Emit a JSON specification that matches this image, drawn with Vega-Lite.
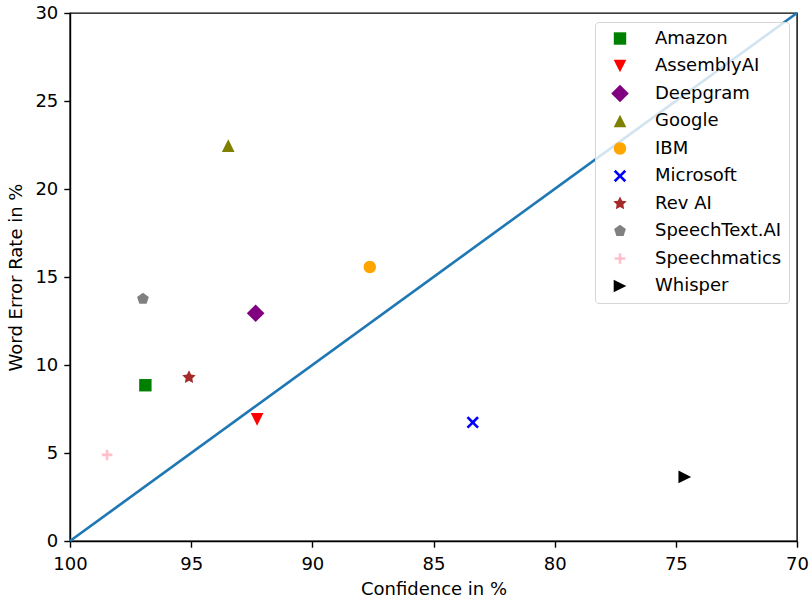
{
  "$schema": "https://vega.github.io/schema/vega-lite/v6.json",
  "width": 727,
  "height": 528,
  "autosize": {"type": "none"},
  "padding": {"left": 70, "top": 13, "right": 14, "bottom": 59},
  "background": "white",
  "config": {
    "font": "DejaVu Sans",
    "view": {"stroke": "black", "strokeWidth": 1.4},
    "axis": {
      "domainColor": "black", "domainWidth": 1.4,
      "tickColor": "black", "tickWidth": 1.4, "tickSize": 6.2,
      "labelPadding": 6, "labelFontSize": 18, "labelColor": "black",
      "titleFontSize": 18, "titleFontWeight": "normal", "titleColor": "black",
      "grid": false, "labelFlush": false
    },
    "legend": {
      "orient": "top-right", "offset": 8.5, "padding": 7.5, "rowPadding": 9.5,
      "symbolOffset": 8.5, "labelOffset": 26, "labelFontSize": 18, "labelColor": "black",
      "symbolSize": 310, "symbolStrokeWidth": 0,
      "fillColor": "rgba(255,255,255,0.8)", "strokeColor": "#d6d6d6", "cornerRadius": 3.5
    }
  },
  "encoding": {
    "x": {"field": "conf", "type": "quantitative",
      "scale": {"domain": [70, 100], "reverse": true, "nice": false, "zero": false},
      "axis": {"title": "Confidence in %", "values": [100, 95, 90, 85, 80, 75, 70], "format": "d", "labelPadding": 8.5, "titlePadding": 7}},
    "y": {"field": "wer", "type": "quantitative",
      "scale": {"domain": [0, 30], "nice": false},
      "axis": {"title": "Word Error Rate in %", "values": [0, 5, 10, 15, 20, 25, 30], "format": "d", "titlePadding": 9}}
  },
  "layer": [
    {
      "data": {"values": [{"conf": 100, "wer": 0}, {"conf": 70, "wer": 30}]},
      "mark": {"type": "line", "color": "#1f77b4", "strokeWidth": 2.64},
      "encoding": {}
    },
    {
      "data": {"values": [
        {"name": "Amazon", "conf": 96.89, "wer": 8.85},
        {"name": "AssemblyAI", "conf": 92.28, "wer": 6.91},
        {"name": "Deepgram", "conf": 92.34, "wer": 12.94},
        {"name": "Google", "conf": 93.47, "wer": 22.46},
        {"name": "IBM", "conf": 87.63, "wer": 15.57},
        {"name": "Microsoft", "conf": 83.38, "wer": 6.74},
        {"name": "Rev AI", "conf": 95.09, "wer": 9.3},
        {"name": "SpeechText.AI", "conf": 96.99, "wer": 13.76},
        {"name": "Speechmatics", "conf": 98.47, "wer": 4.89},
        {"name": "Whisper", "conf": 74.63, "wer": 3.64}
      ]},
      "mark": {"type": "point", "filled": true, "opacity": 1, "size": 310, "strokeWidth": 0},
      "encoding": {
        "color": {"field": "name", "type": "nominal",
          "scale": {"domain": ["Amazon", "AssemblyAI", "Deepgram", "Google", "IBM", "Microsoft", "Rev AI", "SpeechText.AI", "Speechmatics", "Whisper"],
            "range": ["#008000", "#ff0000", "#800080", "#808000", "#ffa500", "#0000ff", "#a52a2a", "#808080", "#ffc0cb", "#000000"]},
          "legend": {"title": null}},
        "shape": {"field": "name", "type": "nominal",
          "scale": {"domain": ["Amazon", "AssemblyAI", "Deepgram", "Google", "IBM", "Microsoft", "Rev AI", "SpeechText.AI", "Speechmatics", "Whisper"],
            "range": [
              "M-0.705,-0.705H0.705V0.705H-0.705Z",
              "M0,0.72L0.72,-0.72L-0.72,-0.72Z",
              "M0,-1L1,0L0,1L-1,0Z",
              "M0,-0.72L0.72,0.72L-0.72,0.72Z",
              "M0.705,0A0.705,0.705 0 1,1 -0.705,0A0.705,0.705 0 1,1 0.705,0Z",
              "M0,-0.212L0.494,-0.706L0.706,-0.494L0.212,0L0.706,0.494L0.494,0.706L0,0.212L-0.494,0.706L-0.706,0.494L-0.212,0L-0.706,-0.494L-0.494,-0.706Z",
              "M0,-0.8L0.235,-0.324L0.76,-0.247L0.38,0.124L0.47,0.647L0,0.4L-0.47,0.647L-0.38,0.124L-0.76,-0.247L-0.235,-0.324Z",
              "M0,-0.7L0.666,-0.216L0.411,0.566L-0.411,0.566L-0.666,-0.216Z",
              "M-0.15,-0.6H0.15V-0.15H0.6V0.15H0.15V0.6H-0.15V0.15H-0.6V-0.15H-0.15Z",
              "M0.72,0L-0.72,0.72L-0.72,-0.72Z"
            ]},
          "legend": {"title": null}}
      }
    }
  ]
}
